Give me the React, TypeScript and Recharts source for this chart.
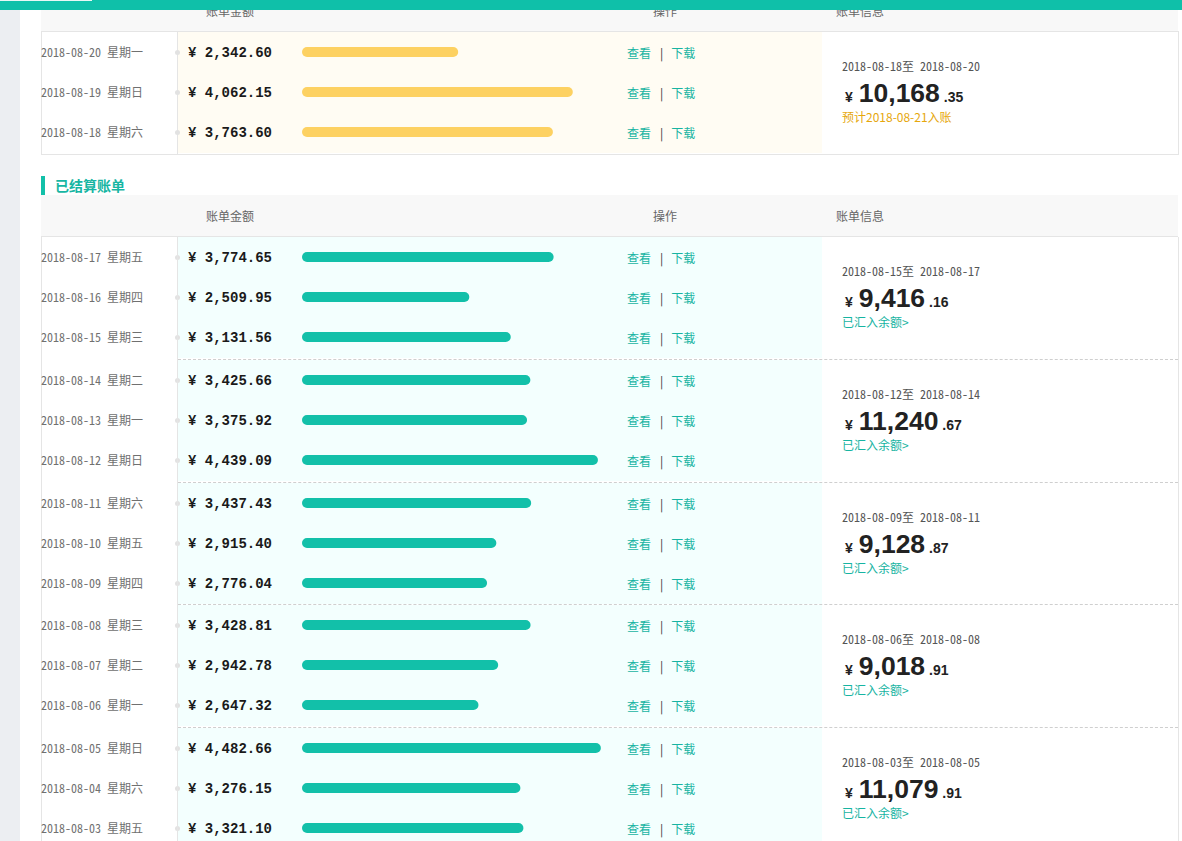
import React from "react";
import { BarChart, Bar, XAxis, YAxis } from "recharts";

// pending (未结算) bills
const pendingDates = ["2018-08-20", "2018-08-19", "2018-08-18"];
const pendingDays = ["星期一", "星期日", "星期六"];
const pendingAmounts = [2342.6, 4062.15, 3763.6];
const pendingNote = "预计2018-08-21入账";

// settled (已结算) bills
const settledDates = [
  "2018-08-17", "2018-08-16", "2018-08-15",
  "2018-08-14", "2018-08-13", "2018-08-12",
  "2018-08-11", "2018-08-10", "2018-08-09",
  "2018-08-08", "2018-08-07", "2018-08-06",
  "2018-08-05", "2018-08-04", "2018-08-03",
];
const settledDays = [
  "星期五", "星期四", "星期三",
  "星期二", "星期一", "星期日",
  "星期六", "星期五", "星期四",
  "星期三", "星期二", "星期一",
  "星期日", "星期六", "星期五",
];
const settledAmounts = [
  3774.65, 2509.95, 3131.56,
  3425.66, 3375.92, 4439.09,
  3437.43, 2915.4, 2776.04,
  3428.81, 2942.78, 2647.32,
  4482.66, 3276.15, 3321.1,
];
const settledNote = "已汇入余额>";

const headerLabels = ["账单金额", "操作", "账单信息"];
const sectionTitle = "已结算账单";
const actionLabels = ["查看", "下载"];

const TEAL = "#12c0a9";
const LINK = "#17b4a2";
const BORDER = "#e5e5e5";
const CJK = "'Noto Sans CJK SC', sans-serif";
const MONO = "'Noto Sans Mono CJK SC', 'Noto Sans CJK SC', monospace";

const fmt = (v: number) =>
  v.toLocaleString("en-US", { minimumFractionDigits: 2, maximumFractionDigits: 2 });

interface GroupProps {
  top: number;
  dates: string[];
  days: string[];
  amounts: number[];
  barColor: string;
  bg: string;
  note: string;
  noteColor: string;
  dashed: boolean;
}

function Group({ top, dates, days, amounts, barColor, bg, note, noteColor, dashed }: GroupProps) {
  const data = dates.map((d, i) => ({ date: d, value: amounts[i] }));
  const total = Math.round(amounts.reduce((a, b) => a + b, 0) * 100) / 100;
  const [intPart, decPart] = fmt(total).split(".");
  return (
    <div style={{ position: "absolute", left: 0, top, width: 1182, height: 123 }}>
      <div style={{ position: "absolute", left: 178, top: 1, width: 644, height: 121, background: bg }} />
      {dashed && (
        <div
          style={{
            position: "absolute",
            left: 178,
            top: 0,
            width: 1000,
            height: 0,
            borderTop: "1px dashed #cfcfcf",
          }}
        />
      )}
      {dates.map((d, i) => (
        <div key={d} style={{ position: "absolute", left: 0, top: 1 + i * 40, width: 822, height: 40 }}>
          <div
            style={{
              position: "absolute",
              left: 41,
              top: 12,
              fontFamily: MONO,
              fontSize: 12,
              color: "#707070",
              whiteSpace: "nowrap",
              lineHeight: "16px",
            }}
          >
            {d} <span style={{ fontFamily: CJK }}>{days[i]}</span>
          </div>
          <div
            style={{
              position: "absolute",
              left: 175,
              top: 18,
              width: 5,
              height: 5,
              borderRadius: 3,
              background: "#e2e2e2",
            }}
          />
          <div
            style={{
              position: "absolute",
              left: 188,
              top: 12,
              fontFamily: "'Liberation Mono', monospace",
              fontWeight: 700,
              fontSize: 14,
              color: "#1a1a1a",
              whiteSpace: "pre",
              lineHeight: "18px",
            }}
          >
            {"¥ " + fmt(amounts[i])}
          </div>
          <div
            style={{
              position: "absolute",
              left: 627,
              top: 13,
              fontFamily: CJK,
              fontSize: 12,
              lineHeight: "16px",
              color: LINK,
              whiteSpace: "nowrap",
            }}
          >
            {actionLabels[0]}
            <span style={{ color: "#333", margin: "0 8px 0 9px" }}>|</span>
            {actionLabels[1]}
          </div>
        </div>
      ))}
      <div style={{ position: "absolute", left: 302, top: 1 }}>
        <BarChart
          width={300}
          height={120}
          layout="vertical"
          data={data}
          margin={{ top: 0, right: 0, bottom: 0, left: 0 }}
        >
          <XAxis type="number" domain={[0, 4500]} hide />
          <YAxis type="category" dataKey="date" hide />
          <Bar dataKey="value" fill={barColor} barSize={10} radius={5} isAnimationActive={false} />
        </BarChart>
      </div>
      <div
        style={{
          position: "absolute",
          left: 842,
          top: 27,
          fontFamily: MONO,
          fontSize: 12,
          color: "#555",
          whiteSpace: "nowrap",
          lineHeight: "16px",
        }}
      >
        {dates[dates.length - 1]}
        <span style={{ fontFamily: CJK }}>至</span> {dates[0]}
      </div>
      <div
        style={{
          position: "absolute",
          left: 845,
          top: 47,
          fontFamily: "'Liberation Sans', Arial, sans-serif",
          fontWeight: 700,
          color: "#222",
          whiteSpace: "nowrap",
          lineHeight: "30px",
        }}
      >
        <span style={{ fontSize: 14, marginRight: 6 }}>¥</span>
        <span style={{ fontSize: 26.5 }}>{intPart}</span>
        <span style={{ fontSize: 14 }}> .{decPart}</span>
      </div>
      <div
        style={{
          position: "absolute",
          left: 842,
          top: 78,
          fontFamily: CJK,
          fontSize: 12,
          color: noteColor,
          whiteSpace: "nowrap",
          lineHeight: "16px",
        }}
      >
        {note}
      </div>
    </div>
  );
}

function Header({ top, height }: { top: number; height: number }) {
  const xs = [206, 653, 836];
  return (
    <div
      style={{
        position: "absolute",
        left: 41,
        top,
        width: 1137,
        height,
        background: "#f8f8f8",
        borderBottom: `1px solid ${BORDER}`,
      }}
    >
      {headerLabels.map((l, i) => (
        <div
          key={l}
          style={{
            position: "absolute",
            left: xs[i] - 41,
            top: height / 2 - 9,
            fontFamily: CJK,
            fontSize: 12,
            color: "#666",
            lineHeight: "18px",
          }}
        >
          {l}
        </div>
      ))}
    </div>
  );
}

export default function App() {
  const groupTops = [0, 1, 2, 3, 4].map((i) => 236 + Math.round(i * 122.75));
  return (
    <div
      style={{
        position: "absolute",
        left: 0,
        top: 0,
        width: 1182,
        height: 841,
        overflow: "hidden",
        background: "#fff",
      }}
    >
      <div style={{ position: "absolute", left: 0, top: 0, width: 20, height: 841, background: "#eceef2" }} />

      <Header top={-10} height={41} />
      {/* pending table box */}
      <div
        style={{
          position: "absolute",
          left: 41,
          top: 31,
          width: 1136,
          height: 122,
          border: `1px solid ${BORDER}`,
        }}
      />
      <div style={{ position: "absolute", left: 177, top: 32, width: 1, height: 122, background: BORDER }} />
      <Group
        top={31}
        dates={pendingDates}
        days={pendingDays}
        amounts={pendingAmounts}
        barColor="#fdd161"
        bg="#fffcf3"
        note={pendingNote}
        noteColor="#e6a70c"
        dashed={false}
      />

      {/* settled title */}
      <div style={{ position: "absolute", left: 41, top: 176, width: 4, height: 19, background: TEAL }} />
      <div
        style={{
          position: "absolute",
          left: 55,
          top: 175,
          fontFamily: CJK,
          fontSize: 14,
          fontWeight: 700,
          color: "#17b6a3",
          lineHeight: "20px",
        }}
      >
        {sectionTitle}
      </div>

      <Header top={195} height={41} />
      <div
        style={{
          position: "absolute",
          left: 41,
          top: 237,
          width: 1136,
          height: 640,
          borderLeft: `1px solid ${BORDER}`,
          borderRight: `1px solid ${BORDER}`,
        }}
      />
      {groupTops.map((t, g) => (
        <Group
          key={t}
          top={t}
          dates={settledDates.slice(g * 3, g * 3 + 3)}
          days={settledDays.slice(g * 3, g * 3 + 3)}
          amounts={settledAmounts.slice(g * 3, g * 3 + 3)}
          barColor={TEAL}
          bg="#f3fffe"
          note={settledNote}
          noteColor={LINK}
          dashed={g > 0}
        />
      ))}
      <div style={{ position: "absolute", left: 177, top: 237, width: 1, height: 610, background: BORDER }} />

      {/* top bar */}
      <div style={{ position: "absolute", left: 0, top: 0, width: 1182, height: 10, background: "#0fc0a9" }} />
      <div style={{ position: "absolute", left: 0, top: 0, width: 92, height: 1, background: "#e9f8f6" }} />
    </div>
  );
}
